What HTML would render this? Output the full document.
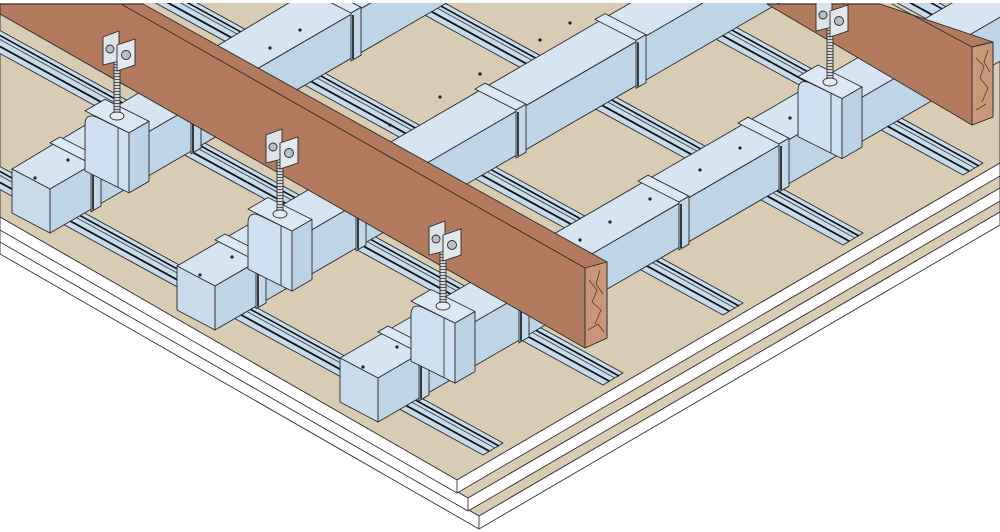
<!DOCTYPE html>
<html><head><meta charset="utf-8"><style>html,body{margin:0;padding:0;background:#fff;}svg{display:block}</style></head>
<body>
<svg width="1000" height="532" viewBox="0 0 1000 532" xmlns="http://www.w3.org/2000/svg">
<defs>
  <g id="collar" stroke="#2a2a2a" stroke-width="0.9" stroke-linejoin="round">
    <polygon points="-2,-47 39,-26 49,-31.8 8,-52.8" fill="#dce9f4"/>
    <polygon points="39,-26 49,-31.8 49,16.2 39,22" fill="#c3d8ea"/>
    <line x1="41" y1="-24" x2="41" y2="20" stroke="#111" stroke-width="1.6"/>
  </g>
  <g id="clip" stroke="#2a2a2a" stroke-width="0.9" stroke-linejoin="round">
    <polygon points="-3,-58 41,-36 61,-47.6 17,-69.6" fill="#dce9f4"/>
    <path d="M-3,2 L41,24 L41,-36 L8,-52 Q-3,-56 -3,-44 Z" fill="#cddff0"/>
    <polygon points="41,-36 61,-47.6 61,12.4 41,24" fill="#bcd3e7"/>
    <line x1="30" y1="-41" x2="30" y2="18" stroke="#333"/>
  </g>
  <g id="hanger" stroke="#2a2a2a" stroke-width="0.9">
    <rect x="-3" y="8" width="6" height="56" fill="#d5d9de"/>
    <line x1="0" y1="8" x2="0" y2="64" stroke="#555" stroke-width="5" stroke-dasharray="1 2"/>
    <polygon points="-14,-16 2,-22 2,8 -14,12" fill="#dfe3e8"/>
    <polygon points="0,-8 18,-14 18,12 0,18" fill="#e4e8ec"/>
    <circle cx="-7" cy="-4" r="4" fill="#b9c0c8"/>
    <circle cx="9" cy="2" r="4.5" fill="#b9c0c8"/>
    <ellipse cx="0" cy="63" rx="7" ry="4" fill="#e8ecf0"/>
  </g>
</defs>

<!-- board layers (bottom first) -->
<g stroke="#333" stroke-width="0.9" stroke-linejoin="round">
  <polygon points="0,0 1000,0 1000,212 479,516 0,241" fill="#d8ccb4"/>
  <polygon points="0,241 479,516 1000,212 1000,225 479,529 0,254" fill="#fff"/>
  <line x1="479" y1="516" x2="479" y2="529"/>
  <polygon points="0,0 1000,0 1000,188 468,498 0,229" fill="#d8ccb4"/>
  <polygon points="0,229 468,498 1000,188 1000,201 468,511 0,242" fill="#fff"/>
  <line x1="468" y1="498" x2="468" y2="511"/>
  <polygon points="0,0 1000,0 1000,163 457,480 0,217" fill="#d8ccb4"/>
  <polygon points="0,217 457,480 1000,163 1000,176 457,493 0,230" fill="#fff"/>
  <line x1="457" y1="480" x2="457" y2="493"/>
</g>

<!-- furring profiles -->
<g stroke="#2a2a2a" stroke-width="0.9" stroke-linejoin="round">
  <polygon points="-10,184 483,455 503,443 -10,161" fill="#c6dbec"/>
  <polyline points="-10,177 489,451" fill="none" stroke="#111" stroke-width="1.8"/>
  <polyline points="-10,170 495,448" fill="none" stroke="#444"/>
  <polyline points="-10,166 499,446" fill="none" stroke="#111" stroke-width="1.6"/>

  <polygon points="-10,48 603,385 623,373 -10,25" fill="#c6dbec"/>
  <polyline points="-10,41 609,381" fill="none" stroke="#111" stroke-width="1.8"/>
  <polyline points="-10,34 615,378" fill="none" stroke="#444"/>
  <polyline points="-10,30 619,376" fill="none" stroke="#111" stroke-width="1.6"/>

  <polygon points="-10,-88 723,315 743,303 -10,-111" fill="#c6dbec"/>
  <polyline points="-10,-95 729,311" fill="none" stroke="#111" stroke-width="1.8"/>
  <polyline points="-10,-102 735,308" fill="none" stroke="#444"/>
  <polyline points="-10,-106 739,306" fill="none" stroke="#111" stroke-width="1.6"/>

  <polygon points="-10,-224 843,245 863,233 -10,-247" fill="#c6dbec"/>
  <polyline points="-10,-231 849,241" fill="none" stroke="#111" stroke-width="1.8"/>
  <polyline points="-10,-238 855,238" fill="none" stroke="#444"/>
  <polyline points="-10,-242 859,236" fill="none" stroke="#111" stroke-width="1.6"/>

  <polygon points="-10,-360 963,175 983,163 -10,-383" fill="#c6dbec"/>
  <polyline points="-10,-367 969,171" fill="none" stroke="#111" stroke-width="1.8"/>
  <polyline points="-10,-374 975,168" fill="none" stroke="#444"/>
  <polyline points="-10,-378 979,166" fill="none" stroke="#111" stroke-width="1.6"/>

  <polygon points="-10,-496 1083,105 1103,93 -10,-519" fill="#c6dbec"/>
  <polyline points="-10,-503 1089,101" fill="none" stroke="#111" stroke-width="1.8"/>
  <polyline points="-10,-514 1099,95" fill="none" stroke="#111" stroke-width="1.6"/>
</g>

<!-- primary channels -->
<g stroke="#2a2a2a" stroke-width="0.9" stroke-linejoin="round">
  <polygon points="12,169 50,189 650,-159 612,-191" fill="#d6e5f1"/>
  <polygon points="50,233 650,-115 650,-159 50,189" fill="#bed4e7"/>
  <polygon points="12,213 50,233 50,189 12,169" fill="#cadcec"/>
  <polygon points="177,266 215,286 915,-120 877,-140" fill="#d6e5f1"/>
  <polygon points="215,330 915,-76 915,-120 215,286" fill="#bed4e7"/>
  <polygon points="177,310 215,330 215,286 177,266" fill="#cadcec"/>
  <polygon points="340,358 378,378 1078,-28 1040,-48" fill="#d6e5f1"/>
  <polygon points="378,422 1078,16 1078,-28 378,378" fill="#bed4e7"/>
  <polygon points="340,402 378,422 378,378 340,358" fill="#cadcec"/>
</g>
<g fill="#222">
  <circle cx="35" cy="178" r="1.6"/><circle cx="68" cy="160" r="1.6"/><circle cx="86" cy="150" r="1.6"/><circle cx="104" cy="140" r="1.6"/>
  <circle cx="200" cy="275" r="1.6"/><circle cx="232" cy="257" r="1.6"/><circle cx="250" cy="247" r="1.6"/><circle cx="268" cy="237" r="1.6"/>
  <circle cx="363" cy="367" r="1.6"/><circle cx="397" cy="347" r="1.6"/><circle cx="415" cy="337" r="1.6"/><circle cx="433" cy="327" r="1.6"/>
  <circle cx="580" cy="240" r="1.6"/><circle cx="610" cy="222" r="1.6"/><circle cx="650" cy="199" r="1.6"/><circle cx="700" cy="170" r="1.6"/><circle cx="740" cy="148" r="1.6"/><circle cx="790" cy="118" r="1.6"/>
  <circle cx="390" cy="125" r="1.6"/><circle cx="440" cy="97" r="1.6"/><circle cx="480" cy="74" r="1.6"/><circle cx="540" cy="40" r="1.6"/><circle cx="570" cy="23" r="1.6"/>
  <circle cx="270" cy="48" r="1.6"/><circle cx="300" cy="30" r="1.6"/>
</g>
<use href="#collar" transform="translate(52,189.8)"/>
<use href="#collar" transform="translate(152,131.8)"/>
<use href="#collar" transform="translate(312,39)"/>
<use href="#collar" transform="translate(217,286.8)"/>
<use href="#collar" transform="translate(317,228.8)"/>
<use href="#collar" transform="translate(477,136)"/>
<use href="#collar" transform="translate(597,66.4)"/>
<use href="#collar" transform="translate(380,378.8)"/>
<use href="#collar" transform="translate(480,320.8)"/>
<use href="#collar" transform="translate(640,228)"/>
<use href="#collar" transform="translate(740,170)"/>
<use href="#collar" transform="translate(900,77.2)"/>
<use href="#clip" transform="translate(88,168.9)"/>
<use href="#clip" transform="translate(251,267.1)"/>
<use href="#clip" transform="translate(414,359.1)"/>
<use href="#clip" transform="translate(801,134.6)"/>

<!-- timber beams -->
<g stroke="#2a2a2a" stroke-width="0.9" stroke-linejoin="round">
  <polygon points="0,4 143,4 607,262 607,338 585,348 0,14" fill="#b27b5e"/>
  <polyline points="121,4 585,268" fill="none"/>
  <polygon points="585,268 607,262 607,338 585,348" fill="#c9967a"/>
  <path d="M589,280 l8,10 l-5,12 l9,8 l-6,14 M600,270 l-4,14 l7,10 M588,330 l10,-6 l6,8" fill="none" stroke="#5a3a28" stroke-width="0.8"/>
  <polygon points="767,4 880,4 993,42 993,117 972,125" fill="#b27b5e"/>
  <polyline points="892,4 972,47" fill="none"/>
  <polygon points="972,47 993,42 993,117 972,125" fill="#c9967a"/>
  <path d="M976,58 l8,8 l-4,12 l8,10 l-6,14 M988,50 l-4,12 l6,10 M976,110 l10,-6" fill="none" stroke="#5a3a28" stroke-width="0.8"/>
</g>

<use href="#hanger" transform="translate(117,53)"/>
<use href="#hanger" transform="translate(280,151)"/>
<use href="#hanger" transform="translate(443,243)"/>
<use href="#hanger" transform="translate(830,19)"/>

<rect x="0" y="0" width="1000" height="3" fill="#fff"/>
</svg>
</body></html>
